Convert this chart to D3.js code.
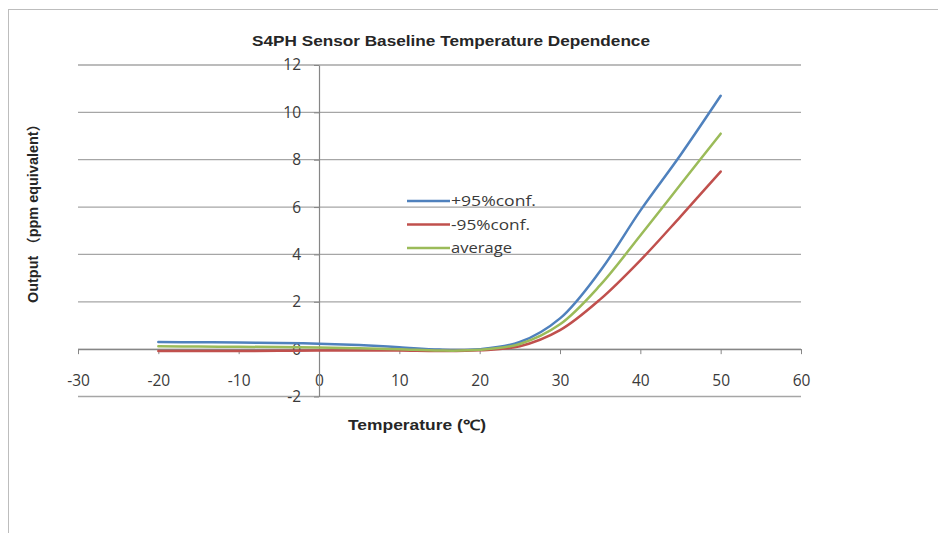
<!DOCTYPE html>
<html>
<head>
<meta charset="utf-8">
<script src="https://cdn.jsdelivr.net/npm/d3@7"></script>
<style>
  html, body { margin: 0; padding: 0; background: #fff; }
  svg { display: block; }
</style>
</head>
<body>
<div id="chart"></div>
<script>
// Temperatures (°C) and sensor output (ppm equivalent)
const temps   = [-20, -15, -10, -5, 0, 5, 10, 15, 20, 25, 30, 35, 40, 45, 50];
const upper   = [0.30, 0.29, 0.28, 0.26, 0.23, 0.17, 0.08, -0.02, 0.00, 0.30, 1.30, 3.30, 5.85, 8.20, 10.70];
const lower   = [-0.08, -0.08, -0.08, -0.07, -0.06, -0.06, -0.06, -0.08, -0.05, 0.12, 0.80, 2.10, 3.75, 5.60, 7.50];
const average = [0.12, 0.11, 0.10, 0.09, 0.07, 0.04, 0.00, -0.06, -0.03, 0.22, 1.05, 2.70, 4.80, 6.95, 9.10];

const seriesNames  = ["+95%conf.", "-95%conf.", "average"];
const seriesColors = ["#4F81BD", "#C0504D", "#9BBB59"];
const xTicks = [-30, -20, -10, 0, 10, 20, 30, 40, 50, 60];
const yTicks = [-2, 0, 2, 4, 6, 8, 10, 12];

const series = [upper, lower, average].map((vals, i) => ({
    name: seriesNames[i],
    color: seriesColors[i],
    values: temps.map((t, j) => ({t: t, v: vals[j]}))
}));

const W = 938, H = 533;
const svg = d3.select("#chart").append("svg")
    .attr("width", W)
    .attr("height", H);

// outer chart border
svg.append("rect")
    .attr("x", 8.5).attr("y", 9.5)
    .attr("width", 1000).attr("height", 1000)
    .attr("fill", "none")
    .attr("stroke", "#bdbdbd");

const x = d3.scaleLinear().domain([-30, 60]).range([78, 801]);
const y = d3.scaleLinear().domain([-2, 12]).range([396.5, 65]);

// horizontal gridlines
svg.append("g")
    .selectAll("line")
    .data(yTicks)
    .join("line")
    .attr("x1", x(-30)).attr("x2", x(60))
    .attr("y1", d => y(d)).attr("y2", d => y(d))
    .attr("stroke", "#a6a6a6")
    .attr("stroke-width", 1.3);

const tickFont = "Open Sans, sans-serif";

// x axis sits on y = 0
const xAxis = svg.append("g")
    .attr("transform", `translate(0,${y(0)})`)
    .call(d3.axisBottom(x).tickValues(xTicks).tickFormat(d => String(d))
        .tickSize(5).tickSizeOuter(0).tickPadding(21));
xAxis.select(".domain").attr("stroke", "#868686").attr("stroke-width", 1.2);
xAxis.selectAll(".tick line").attr("stroke", "#868686");
xAxis.selectAll("text")
    .attr("font-family", tickFont)
    .attr("font-size", 15.5)
    .attr("fill", "#3a3a3a");

// y axis sits on x = 0
const yAxis = svg.append("g")
    .attr("transform", `translate(${x(0)},0)`)
    .call(d3.axisLeft(y).tickValues(yTicks).tickFormat(d => String(d))
        .tickSize(5).tickSizeOuter(0).tickPadding(13));
yAxis.select(".domain").attr("stroke", "#868686").attr("stroke-width", 1.2);
yAxis.selectAll(".tick line").attr("stroke", "#868686");
yAxis.selectAll("text")
    .attr("font-family", tickFont)
    .attr("font-size", 15.5)
    .attr("fill", "#3a3a3a");

// smoothed lines
const line = d3.line()
    .x(d => x(d.t))
    .y(d => y(d.v))
    .curve(d3.curveCatmullRom.alpha(0.5));

svg.append("g")
    .selectAll("path")
    .data(series)
    .join("path")
    .attr("fill", "none")
    .attr("stroke", d => d.color)
    .attr("stroke-width", 2.5)
    .attr("stroke-linecap", "round")
    .attr("d", d => line(d.values));

// legend
const legendWidths = [85, 79, 61];
const legend = svg.append("g")
    .selectAll("g")
    .data(series)
    .join("g")
    .attr("transform", (d, i) => `translate(407,${201 + i * 23.5})`);

legend.append("line")
    .attr("x1", 0).attr("x2", 43)
    .attr("stroke", d => d.color)
    .attr("stroke-width", 2.5);

legend.append("text")
    .attr("x", 44)
    .attr("dy", "0.35em")
    .attr("font-family", tickFont)
    .attr("font-size", 15)
    .attr("fill", "#3a3a3a")
    .attr("textLength", (d, i) => legendWidths[i])
    .attr("lengthAdjust", "spacingAndGlyphs")
    .text(d => d.name);

// title
svg.append("text")
    .attr("x", 451).attr("y", 45.5)
    .attr("text-anchor", "middle")
    .attr("font-family", "Liberation Sans, Arial, sans-serif")
    .attr("font-weight", "bold")
    .attr("font-size", 15)
    .attr("fill", "#262626")
    .attr("textLength", 398)
    .attr("lengthAdjust", "spacingAndGlyphs")
    .text("S4PH Sensor Baseline Temperature Dependence");

// axis titles
svg.append("text")
    .attr("x", 417).attr("y", 430)
    .attr("text-anchor", "middle")
    .attr("font-family", "Liberation Sans, Arial, sans-serif")
    .attr("font-weight", "bold")
    .attr("font-size", 14)
    .attr("fill", "#262626")
    .attr("textLength", 138)
    .attr("lengthAdjust", "spacingAndGlyphs")
    .text("Temperature (℃)");

svg.append("text")
    .attr("transform", "translate(38,210) rotate(-90)")
    .attr("text-anchor", "middle")
    .attr("font-family", "Liberation Sans, Noto Sans CJK SC, sans-serif")
    .attr("font-weight", "bold")
    .attr("font-size", 14)
    .attr("fill", "#262626")
    .attr("textLength", 186)
    .attr("lengthAdjust", "spacingAndGlyphs")
    .text("Output （ppm equivalent）");
</script>
</body>
</html>
